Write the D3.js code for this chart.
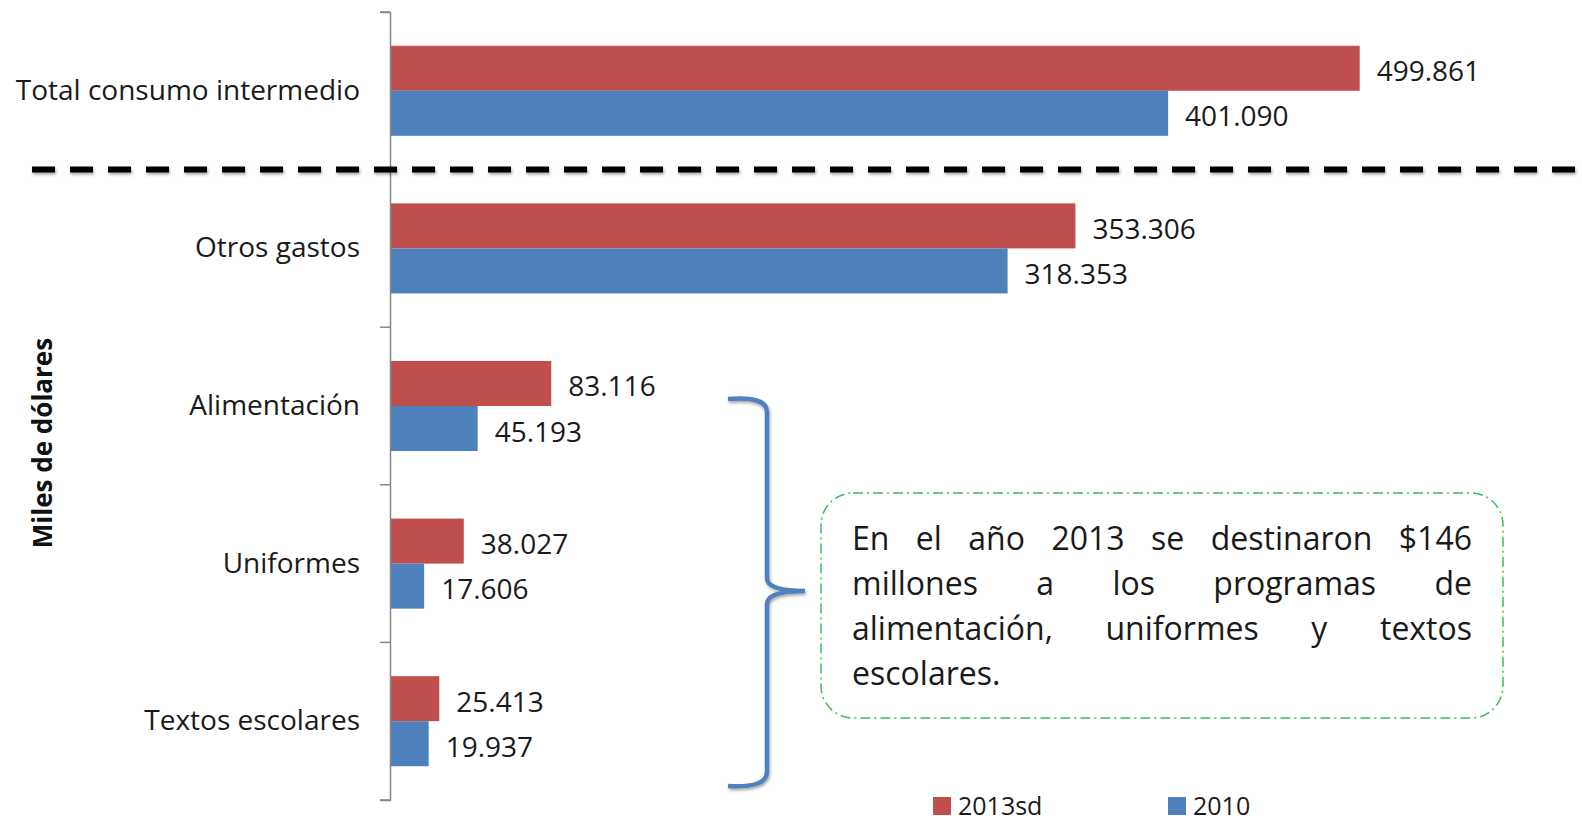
<!DOCTYPE html>
<html>
<head>
<meta charset="utf-8">
<script src="https://cdn.jsdelivr.net/npm/d3@7"></script>
<style>
  html, body { margin: 0; padding: 0; background: #fff; }
  svg { display: block; font-family: "Open Sans", sans-serif; }
</style>
</head>
<body>
<svg id="chart" width="1582" height="821"></svg>
<script>
const categories = ["Total consumo intermedio", "Otros gastos", "Alimentación", "Uniformes", "Textos escolares"];
const seriesNames = ["2013sd", "2010"];
const values2013 = [499.861, 353.306, 83.116, 38.027, 25.413];
const values2010 = [401.090, 318.353, 45.193, 17.606, 19.937];
const seriesColors = ["#C0504D", "#4F81BD"];
const axisTitle = "Miles de dólares";
const noteLines = [
    "En el año 2013 se destinaron $146",
    "millones a los programas de",
    "alimentación, uniformes y textos",
    "escolares."
];

const svg = d3.select("#chart");

const defs = svg.append("defs");
defs.append("filter")
    .attr("id", "shadow")
    .attr("filterUnits", "userSpaceOnUse")
    .attr("x", 0).attr("y", 0)
    .attr("width", 1582).attr("height", 821)
    .append("feDropShadow")
    .attr("dx", 1).attr("dy", 2)
    .attr("stdDeviation", 1.5)
    .attr("flood-color", "#000")
    .attr("flood-opacity", 0.35);

const x = d3.scaleLinear()
    .domain([0, 600])
    .range([390, 1554]);

const y = d3.scaleBand()
    .domain(categories)
    .range([12, 800]);

const ySub = d3.scaleBand()
    .domain(seriesNames)
    .range([0, y.bandwidth()])
    .paddingOuter(0.75);

const rows = categories.map((c, i) => ({
    category: c,
    values: [
        { series: seriesNames[0], value: values2013[i] },
        { series: seriesNames[1], value: values2010[i] }
    ]
}));

// bars
const groups = svg.selectAll("g.cat")
    .data(rows)
    .enter()
    .append("g")
    .attr("class", "cat")
    .attr("transform", d => `translate(0,${y(d.category)})`);

groups.selectAll("rect")
    .data(d => d.values)
    .enter()
    .append("rect")
    .attr("x", x(0))
    .attr("y", d => ySub(d.series))
    .attr("width", d => x(d.value) - x(0))
    .attr("height", ySub.bandwidth())
    .attr("fill", (d, i) => seriesColors[i]);

const fmt = d3.format(".3f");
groups.selectAll("text.val")
    .data(d => d.values)
    .enter()
    .append("text")
    .attr("class", "val")
    .attr("x", d => x(d.value) + 17)
    .attr("y", d => ySub(d.series) + ySub.bandwidth() / 2 + 2)
    .attr("dominant-baseline", "central")
    .attr("font-size", 28)
    .attr("fill", "#1a1a1a")
    .text(d => fmt(d.value));

// axis
const yAxis = d3.axisLeft(y).tickSize(10).tickSizeOuter(10).tickPadding(20);
const axisG = svg.append("g")
    .attr("transform", `translate(${x(0)},0)`)
    .call(yAxis);
axisG.select(".domain").attr("stroke", "#878787").attr("stroke-width", 1.5);
axisG.selectAll(".tick line").remove();
axisG.selectAll(".tick text")
    .attr("font-size", 28)
    .attr("font-family", "Open Sans, sans-serif")
    .attr("fill", "#1a1a1a");

// category boundary ticks
const bounds = [y.range()[0]].concat(categories.map(c => y(c) + y.step()));
axisG.selectAll("line.bound")
    .data(bounds)
    .enter()
    .append("line")
    .attr("class", "bound")
    .attr("x1", -10).attr("x2", 0)
    .attr("y1", d => d).attr("y2", d => d)
    .attr("stroke", "#878787")
    .attr("stroke-width", 1.5);

// axis title
svg.append("text")
    .attr("transform", "translate(42,443) rotate(-90)")
    .attr("text-anchor", "middle")
    .attr("dominant-baseline", "central")
    .attr("font-size", 26)
    .attr("font-weight", "bold")
    .attr("fill", "#111")
    .text(axisTitle);

// dashed separator
svg.append("line")
    .attr("x1", 32).attr("x2", 1582)
    .attr("y1", y(categories[1])).attr("y2", y(categories[1]))
    .attr("stroke", "#000")
    .attr("stroke-width", 6)
    .attr("stroke-dasharray", "23,15")
    .attr("filter", "url(#shadow)");

// brace
svg.append("path")
    .attr("d", "M728,399 Q767,396 767,412 L767,578 Q767,591 805,591 Q767,591 767,604 L767,772 Q767,788 728,786")
    .attr("fill", "none")
    .attr("stroke", "#4F81BD")
    .attr("stroke-width", 4.5)
    .attr("filter", "url(#shadow)");

// note box
svg.append("rect")
    .attr("x", 821).attr("y", 493)
    .attr("width", 682).attr("height", 225)
    .attr("rx", 32).attr("ry", 32)
    .attr("fill", "#fff")
    .attr("stroke", "#3DBB5E")
    .attr("stroke-width", 1.5)
    .attr("stroke-dasharray", "10,4,2,4");

const textLeft = 852, textRight = 1472;
noteLines.forEach((line, li) => {
    const baseY = 550 + li * 45;
    const words = line.split(" ");
    const g = svg.append("g");
    const nodes = words.map(w => g.append("text")
        .attr("y", baseY)
        .attr("font-size", 32)
        .attr("fill", "#1a1a1a")
        .text(w));
    const widths = nodes.map(n => n.node().getComputedTextLength());
    const total = d3.sum(widths);
    const last = li === noteLines.length - 1;
    const gap = (last || words.length < 2) ? 9 : (textRight - textLeft - total) / (words.length - 1);
    let cx = textLeft;
    nodes.forEach((n, i) => {
        n.attr("x", cx);
        cx += widths[i] + gap;
    });
});

// legend
const legendX = [933, 1168];
const legend = svg.selectAll("g.leg")
    .data(seriesNames)
    .enter()
    .append("g")
    .attr("class", "leg")
    .attr("transform", (d, i) => `translate(${legendX[i]},797)`);
legend.append("rect")
    .attr("width", 18).attr("height", 18)
    .attr("fill", (d, i) => seriesColors[i]);
legend.append("text")
    .attr("x", 25).attr("y", 18)
    .attr("font-size", 25)
    .attr("fill", "#1a1a1a")
    .text(d => d);
</script>
</body>
</html>
